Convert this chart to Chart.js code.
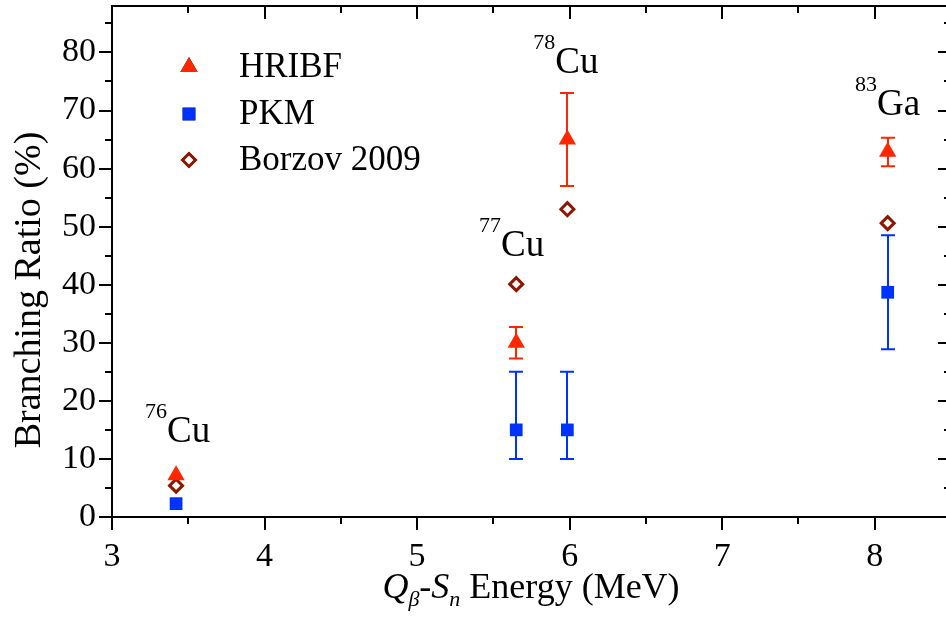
<!DOCTYPE html>
<html>
<head>
<meta charset="utf-8">
<script src="https://cdn.jsdelivr.net/npm/chart.js@4.4.0/dist/chart.umd.min.js"></script>
<style>
  html, body { margin: 0; padding: 0; background: #fff; overflow: hidden; }
  #chart { display: block; }
</style>
</head>
<body>
<canvas id="chart" width="952" height="619"></canvas>
<script>
// Q_beta - S_n energies (MeV) for 76Cu, 77Cu, 78Cu, 83Ga
const energies = [3.42, 5.65, 5.985, 8.085];
const nuclei = [['76', 'Cu'], ['77', 'Cu'], ['78', 'Cu'], ['83', 'Ga']];

// branching ratios (%)
const hribf = [7.2, 30.0, 65.0, 62.9];
const hribfErrUp = [0, 2.7, 8.0, 2.4];
const hribfErrDown = [0, 2.7, 8.0, 2.5];

const pkm = [2.3, 15, 15, 38.7];
const pkmErrUp = [0, 10, 10, 9.8];
const pkmErrDown = [0, 5, 5, 9.8];

const borzov = [5.4, 40.1, 53.0, 50.6];

const seriesNames = ['HRIBF', 'PKM', 'Borzov 2009'];

// where the nucleus labels sit (data units: centre x, baseline y)
const labelX = [3.43, 5.62, 5.975, 8.085];
const labelY = [13.0, 45.0, 76.5, 69.3];

const xTicks = [3, 4, 5, 6, 7, 8];
const yTicks = [0, 10, 20, 30, 40, 50, 60, 70, 80];

const RED = 'rgb(255, 38, 0)';
const BLUE = 'rgb(0, 50, 255)';
const BROWN = 'rgb(140, 22, 0)';
const SERIF = '"Liberation Serif", "Times New Roman", serif';

const toPoints = (ys) => ys.map((y, i) => ({ x: energies[i], y }));

const noPadding = (s) => {
  s.paddingTop = 0;
  s.paddingBottom = 0;
  s.paddingLeft = 0;
  s.paddingRight = 0;
};

// error bars, drawn under the markers
const errorBars = {
  id: 'errorBars',
  beforeDatasetsDraw(chart) {
    const { ctx, scales: { x, y } } = chart;
    const sets = [
      [hribf, hribfErrUp, hribfErrDown, RED],
      [pkm, pkmErrUp, pkmErrDown, BLUE],
    ];
    ctx.save();
    ctx.lineWidth = 2;
    sets.forEach(([vals, up, down, color]) => {
      ctx.strokeStyle = color;
      vals.forEach((v, i) => {
        if (!up[i] && !down[i]) return;
        const px = Math.round(x.getPixelForValue(energies[i]));
        const top = y.getPixelForValue(v + up[i]);
        const bot = y.getPixelForValue(v - down[i]);
        ctx.beginPath();
        ctx.moveTo(px, top);
        ctx.lineTo(px, bot);
        ctx.moveTo(px - 7, top);
        ctx.lineTo(px + 7, top);
        ctx.moveTo(px - 7, bot);
        ctx.lineTo(px + 7, bot);
        ctx.stroke();
      });
    });
    ctx.restore();
  },
};

// frame, ticks, titles, legend and nucleus labels
const decorations = {
  id: 'decorations',
  afterDraw(chart) {
    const { ctx, chartArea: a, scales: { x, y } } = chart;
    ctx.save();
    ctx.strokeStyle = '#000';
    ctx.lineWidth = 2;
    ctx.strokeRect(a.left, a.top, a.right - a.left, a.bottom - a.top);

    ctx.beginPath();
    for (let v = 3; v <= 8.5; v += 0.5) {
      const px = Math.round(x.getPixelForValue(v));
      const major = Number.isInteger(v);
      const len = major ? 13 : 7;
      ctx.moveTo(px, a.bottom);
      ctx.lineTo(px, a.bottom + len);
      ctx.moveTo(px, a.top);
      ctx.lineTo(px, a.top + len);
    }
    for (let v = 0; v <= 88; v += 5) {
      const py = Math.round(y.getPixelForValue(v));
      const major = v % 10 === 0;
      const len = major ? 13 : 7;
      ctx.moveTo(a.left, py);
      ctx.lineTo(a.left - len, py);
      ctx.moveTo(a.right, py);
      ctx.lineTo(a.right - len, py);
    }
    ctx.stroke();

    ctx.fillStyle = '#000';
    // y title
    ctx.save();
    ctx.translate(30, 290);
    ctx.rotate(-Math.PI / 2);
    ctx.font = '38px ' + SERIF;
    ctx.textAlign = 'center';
    ctx.textBaseline = 'middle';
    ctx.fillText('Branching Ratio (%)', 0, 0);
    ctx.restore();

    // x title: Q_beta-S_n Energy (MeV)
    const parts = [
      ['Q', 'italic 36px ' + SERIF, 0],
      ['\u03B2', 'italic 22px ' + SERIF, 8],
      ['-', '36px ' + SERIF, 0],
      ['S', 'italic 36px ' + SERIF, 0],
      ['n', 'italic 22px ' + SERIF, 8],
      [' Energy (MeV)', '36px ' + SERIF, 0],
    ];
    let total = 0;
    parts.forEach(([t, f]) => { ctx.font = f; total += ctx.measureText(t).width; });
    let tx = 531 - total / 2;
    ctx.textAlign = 'left';
    ctx.textBaseline = 'alphabetic';
    parts.forEach(([t, f, dy]) => {
      ctx.font = f;
      ctx.fillText(t, tx, 598 + dy);
      tx += ctx.measureText(t).width;
    });

    // nucleus labels
    nuclei.forEach(([mass, el], i) => {
      ctx.font = '22px ' + SERIF;
      const wm = ctx.measureText(mass).width;
      ctx.font = '37px ' + SERIF;
      const we = ctx.measureText(el).width;
      const cx = x.getPixelForValue(labelX[i]);
      const by = y.getPixelForValue(labelY[i]);
      const sx = cx - (wm + we) / 2;
      ctx.font = '22px ' + SERIF;
      ctx.fillText(mass, sx, by - 24);
      ctx.font = '37px ' + SERIF;
      ctx.fillText(el, sx + wm, by);
    });

    // legend
    const lx = 189;
    const rows = [67, 114, 160];
    ctx.font = '35px ' + SERIF;
    ctx.textBaseline = 'middle';
    chart.data.datasets.forEach((ds, i) => {
      const ly = rows[i];
      ctx.fillStyle = '#000';
      ctx.fillText(ds.label, 239, ly + 1);
      Chart.helpers.drawPoint(ctx, {
        pointStyle: ds.pointStyle,
        radius: ds.pointRadius,
        borderWidth: ds.borderWidth,
        rotation: 0,
      }, lx, ly);
      ctx.fillStyle = ds.backgroundColor;
      ctx.strokeStyle = ds.borderColor;
      ctx.lineWidth = ds.borderWidth;
      ctx.fill();
      if (ds.borderWidth) ctx.stroke();
    });
    ctx.restore();
  },
};

new Chart(document.getElementById('chart'), {
  type: 'scatter',
  data: {
    datasets: [
      {
        label: seriesNames[0],
        data: toPoints(hribf),
        pointStyle: 'triangle',
        pointRadius: 10,
        backgroundColor: RED,
        borderColor: RED,
        borderWidth: 0,
      },
      {
        label: seriesNames[1],
        data: toPoints(pkm),
        pointStyle: 'rect',
        pointRadius: 9,
        backgroundColor: BLUE,
        borderColor: BLUE,
        borderWidth: 0,
      },
      {
        label: seriesNames[2],
        data: toPoints(borzov),
        pointStyle: 'rectRot',
        pointRadius: 6.5,
        backgroundColor: '#fff',
        borderColor: BROWN,
        borderWidth: 3,
      },
    ],
  },
  options: {
    responsive: false,
    animation: false,
    layout: { autoPadding: false, padding: { top: 6, right: 1, left: 0, bottom: 0 } },
    plugins: {
      legend: { display: false },
      tooltip: { enabled: false },
    },
    scales: {
      x: {
        type: 'linear',
        min: 3,
        max: 8.5,
        afterFit: (s) => { s.height = 102; noPadding(s); },
        afterBuildTicks: (s) => { s.ticks = xTicks.map((v) => ({ value: v })); },
        grid: { display: false, drawTicks: false },
        border: { display: false },
        ticks: {
          padding: 20,
          color: '#000',
          font: { family: SERIF, size: 34 },
          maxRotation: 0,
        },
      },
      y: {
        min: 0,
        max: 88,
        afterFit: (s) => { s.width = 112; noPadding(s); },
        afterBuildTicks: (s) => { s.ticks = yTicks.map((v) => ({ value: v })); },
        grid: { display: false, drawTicks: false },
        border: { display: false },
        ticks: {
          padding: 16,
          color: '#000',
          font: { family: SERIF, size: 34 },
        },
      },
    },
  },
  plugins: [errorBars, decorations],
});
</script>
</body>
</html>
